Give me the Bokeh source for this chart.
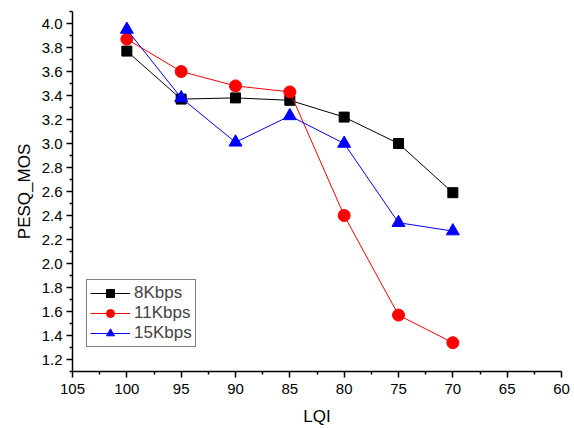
from bokeh.plotting import figure
from bokeh.models import Range1d, FixedTicker, Legend, LegendItem, NumeralTickFormatter
from bokeh.embed import file_html
from bokeh.resources import INLINE

lqi = [100, 95, 90, 85, 80, 75, 70]
s8 = [3.77, 3.37, 3.38, 3.36, 3.22, 3.00, 2.59]
s11 = [3.87, 3.60, 3.48, 3.43, 2.40, 1.57, 1.34]
s15 = [3.95, 3.38, 3.01, 3.23, 3.00, 2.34, 2.27]
names = ["8Kbps", "11Kbps", "15Kbps"]
x_ticks = [105, 100, 95, 90, 85, 80, 75, 70, 65, 60]
x_minor = [102.5, 97.5, 92.5, 87.5, 82.5, 77.5, 72.5, 67.5, 62.5]
y_ticks = [1.2, 1.4, 1.6, 1.8, 2.0, 2.2, 2.4, 2.6, 2.8, 3.0, 3.2, 3.4, 3.6, 3.8, 4.0]
y_minor = [1.1, 1.3, 1.5, 1.7, 1.9, 2.1, 2.3, 2.5, 2.7, 2.9, 3.1, 3.3, 3.5, 3.7, 3.9, 4.1]

FONT = "Liberation Sans"

p = figure(width=574, height=428, output_backend="svg", toolbar_location=None,
           x_range=Range1d(105, 60), y_range=Range1d(1.1, 4.1),
           min_border_left=72, min_border_right=13, min_border_top=11, min_border_bottom=57)
p.frame_width = 489
p.frame_height = 360
p.xgrid.visible = False
p.ygrid.visible = False
p.outline_line_color = None
p.background_fill_color = "white"

for ax in (p.xaxis[0], p.yaxis[0]):
    ax.axis_line_width = 1.5
    ax.axis_line_color = "black"
    ax.major_tick_line_width = 1.5
    ax.minor_tick_line_width = 1.5
    ax.major_tick_in = 0
    ax.major_tick_out = 6
    ax.minor_tick_in = 0
    ax.minor_tick_out = 3
    ax.major_label_text_font = FONT
    ax.major_label_text_font_size = "15px"
    ax.major_label_text_color = "black"
    ax.axis_label_text_font = FONT
    ax.axis_label_text_font_size = "17px"
    ax.axis_label_text_font_style = "normal"
    ax.axis_label_text_color = "black"

p.xaxis[0].ticker = FixedTicker(ticks=x_ticks, minor_ticks=x_minor)
p.yaxis[0].ticker = FixedTicker(ticks=y_ticks, minor_ticks=y_minor)
p.yaxis[0].formatter = NumeralTickFormatter(format="0.0")
p.xaxis[0].axis_label = "LQI"
p.yaxis[0].axis_label = "PESQ_MOS"
p.xaxis[0].major_label_standoff = 6
p.xaxis[0].axis_label_standoff = 10
p.yaxis[0].major_label_standoff = 4
p.yaxis[0].axis_label_standoff = 5

l1 = p.line(lqi, s8, line_color="black", line_width=1)
m1 = p.scatter(lqi, s8, marker="square", size=10, fill_color="black", line_color="black")
l2 = p.line(lqi, s11, line_color="red", line_width=1)
m2 = p.scatter(lqi, s11, marker="circle", size=12, fill_color="red", line_color="red")
l3 = p.line(lqi, s15, line_color="blue", line_width=1)
m3 = p.scatter(lqi, s15, marker="triangle", size=13, fill_color="blue", line_color="blue")

legend = Legend(items=[LegendItem(label=names[0], renderers=[l1, m1]),
                       LegendItem(label=names[1], renderers=[l2, m2]),
                       LegendItem(label=names[2], renderers=[l3, m3])],
                location=(14, 24))
legend.label_text_font = FONT
legend.label_text_font_size = "17px"
legend.glyph_width = 40
legend.glyph_height = 20
legend.label_height = 20
legend.spacing = 0
legend.padding = 3
legend.margin = 0
legend.label_standoff = 4
legend.border_line_color = "black"
legend.border_line_width = 1
legend.background_fill_alpha = 1
p.add_layout(legend, "center")

open("out.html", "w").write(file_html(p, INLINE))
